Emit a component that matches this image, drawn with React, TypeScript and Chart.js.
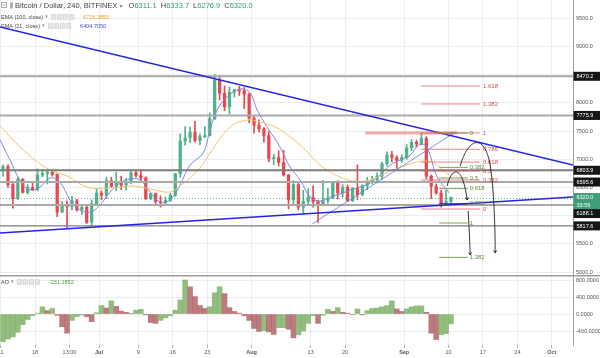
import React, { useEffect, useRef } from 'react';
import { Chart, registerables } from 'chart.js';

Chart.register(...registerables);

// Day index: 0 = 1 Jun 2018. One candle per day, first candle = 11 Jun.
const FIRST_DAY = 10;

const opens = [
  6800, 6870, 6550, 6300, 6640, 6410, 6500, 6460, 6720, 6750, 6770, 6730, 6060, 6170, 6160, 6260, 6100, 6150, 5880, 6210,
  6400, 6360, 6620, 6520, 6600, 6540, 6610, 6760, 6710, 6670, 6300, 6390, 6250, 6230, 6270, 6360, 6740, 7320, 7380, 7480,
  7330, 7400, 7420, 7720, 8400, 8170, 7930, 8190, 8230, 8210, 8150, 7730, 7600, 7540, 7420, 7010, 7030, 6940, 6720, 6280,
  6550, 6150, 6250, 6320, 6250, 6190, 6270, 6310, 6580, 6400, 6500, 6260, 6480, 6370, 6530, 6600, 6640, 6700, 6920, 7080,
  7030, 6980, 7030, 7200, 7300, 7270, 7370, 6700, 6520, 6400, 6190, 6250,
];
const highs = [
  6900, 6900, 6600, 6680, 6660, 6550, 6580, 6830, 6820, 6810, 6800, 6740, 6250, 6260, 6340, 6290, 6190, 6170, 6280, 6480,
  6440, 6680, 6680, 6770, 6700, 6660, 6820, 6800, 6810, 6690, 6400, 6400, 6350, 6330, 6400, 6750, 7450, 7580, 7570, 7670,
  7450, 7580, 7820, 8500, 8480, 8300, 8280, 8240, 8290, 8270, 8170, 7760, 7700, 7560, 7500, 7090, 7150, 7160, 6730, 6620,
  6580, 6450, 6480, 6530, 6270, 6620, 6480, 6580, 6620, 6550, 6540, 6500, 6900, 6550, 6680, 6700, 6760, 6950, 7130, 7140,
  7060, 7080, 7260, 7350, 7340, 7460, 7400, 6720, 6560, 6450, 6450, 6334,
];
const lows = [
  6700, 6500, 6130, 6280, 6400, 6380, 6440, 6440, 6690, 6560, 6700, 5980, 6050, 5780, 6100, 6080, 6020, 5860, 5820, 6190,
  6280, 6300, 6500, 6440, 6460, 6450, 6560, 6680, 6620, 6280, 6280, 6180, 6150, 6200, 6250, 6340, 6680, 7250, 7290, 7300,
  7260, 7380, 7410, 7700, 8050, 7860, 7800, 8100, 8130, 7900, 7650, 7460, 7480, 7300, 6950, 6900, 6880, 6700, 6120, 6200,
  6100, 6020, 6200, 6150, 5880, 6170, 6220, 6300, 6300, 6330, 6250, 6250, 6280, 6350, 6460, 6560, 6580, 6640, 6880, 6950,
  6800, 6940, 7000, 7150, 7220, 7250, 6650, 6300, 6380, 6150, 6180, 6230,
];
const closes = [
  6870, 6550, 6300, 6640, 6410, 6500, 6460, 6720, 6750, 6770, 6730, 6060, 6170, 6160, 6260, 6100, 6150, 5880, 6210, 6400,
  6360, 6620, 6520, 6600, 6540, 6610, 6760, 6710, 6670, 6300, 6390, 6250, 6230, 6270, 6360, 6740, 7320, 7380, 7480, 7330,
  7400, 7420, 7720, 8400, 8170, 7930, 8190, 8230, 8210, 8150, 7730, 7600, 7540, 7420, 7010, 7030, 6940, 6720, 6280, 6550,
  6150, 6250, 6320, 6250, 6190, 6270, 6310, 6580, 6400, 6500, 6260, 6480, 6370, 6530, 6600, 6640, 6700, 6920, 7080, 7030,
  6980, 7030, 7200, 7300, 7270, 7370, 6700, 6520, 6400, 6190, 6250, 6320,
];

// Awesome Oscillator, one value per day (same days as the candles)
const aoValues = [
  -650, -590, -540, -430, -250, -130, -40, 20, 170, 80, 130, -30, -300, -450, -150, -60, -25, -60, -180, 30,
  200, 140, 310, 180, 70, 40, 10, 90, 110, -20, -200, -220, -150, -90, -40, 90, 330, 800, 640, 410,
  200, 130, 170, 500, 640, 480, 150, 60, 20, -40, -150, -340, -410, -390, -420, -480, -320, -320, -360, -560,
  -490, -400, -220, -40, -220, -30, 110, 60, 150, 40, 20, -10, 120, -20, 80, 130, 140, 170, 200, 310,
  120, 60, 120, 170, 190, 190, 40, -450, -600, -490, -460, -231,
];

const ema100Days = [9.9, 13.94, 16.99, 20.04, 23.5, 27.56, 32.24, 36.91, 40.37, 44.43, 46.46, 48.5, 50.53, 52.56, 56.63, 60.08, 62.72, 66.18, 68.82, 70.86, 72.89, 74.92, 76.95, 78.98, 81.63, 85.08, 89.15, 93.21, 95.85, 97.89, 101.14];
const ema100Values = [7589, 7216, 6986, 6809, 6702, 6507, 6489, 6525, 6472, 6418, 6525, 6667, 6844, 7110, 7571, 7695, 7660, 7553, 7394, 7252, 7074, 6897, 6773, 6684, 6613, 6631, 6791, 6915, 6968, 6933, 6716.4];

const ema21Days = [9.9, 11.91, 13.94, 15.98, 18.01, 20.04, 22.07, 24.11, 26.14, 28.17, 30.2, 32.24, 34.27, 36.3, 38.33, 40.37, 42.4, 44.43, 46.46, 48.5, 51.14, 52.56, 53.98, 56.02, 58.66, 60.69, 62.11, 64.15, 66.78, 68.82, 70.86, 72.89, 74.92, 76.95, 78.98, 81.02, 83.05, 85.08, 87.11, 89.15, 91.18, 93.21, 95.24, 96.67, 98.7, 101.14];
const ema21Values = [7340, 6986, 6631, 6454, 6507, 6667, 6596, 6277, 6099, 6064, 6188, 6418, 6578, 6649, 6631, 6418, 6241, 6277, 6543, 6897, 7110, 7518, 7872, 8103, 8245, 8174, 7872, 7571, 7216, 6862, 6631, 6330, 6259, 6330, 6383, 6454, 6507, 6578, 6720, 6897, 6986, 7074, 7269, 7199, 6684, 6404.7];

const xTickDays = [10, 17, 24, 30, 38, 45, 52, 61, 73, 80, 92, 101, 108, 115, 122];
const xTickLabels = ['11', '18', '13:00', 'Jul', '9', '16', '23', 'Aug', '13', '20', 'Sep', '10', '17', '24', 'Oct'];
const monthLabels = ['Jul', 'Aug', 'Sep', 'Oct'];

const priceTicks = [5000, 5250, 5500, 5750, 6000, 6250, 6500, 6750, 7000, 7250, 7500, 7750, 8000, 8250, 8500, 8750, 9000, 9250, 9500, 9750];
const hiddenPriceTicks = [8500, 7750, 6750, 6250, 6000, 5750];
const aoTicks = [-400, 0, 400, 800];

const levelPrices = [8470.2, 7775.9, 6803.9, 6595.6, 6188.1, 5817.6];
const lastPrice = 6320.0;
const countdown = '33:59';

const downTrend = [[9.88, 9344], [126.3, 6897]];
const upTrend = [[9.88, 5691], [126.3, 6330]];
const wedgeLine = [[73.3, 5851], [102.4, 7482]];
const resistanceBand = [[84.1, 7465], [102.8, 7465]];

const redFibLevels = [0, 0.382, 0.5, 0.618, 0.786, 1, 1.382, 1.618];
const redFibBase = [6117, 7465];
const redFibSpan = [95.4, 107.4];
const greenFibLevels = [0, 0.382, 0.5, 0.618, 0.786, 1, 1.382];
const greenFibBase = [7465, 5869];
const greenFibSpan = [99.1, 104.9];

// hand-drawn arrows (cubic bezier: start, cp1, cp2, end)
const arrowA = [[100.73, 6525], [101.54, 6844], [103.78, 6950], [104.8, 6277]];
const arrowA2 = [[105.0, 6082], [105.2, 5800], [105.35, 5500], [105.41, 5301]];
const arrowB1 = [[103.37, 6879], [104.99, 7376], [108.25, 7482], [109.47, 6897]];
const arrowB2 = [[109.47, 6897], [110.28, 6454], [110.49, 5745], [110.49, 5337]];

const UP = '#4fb28a';
const DOWN = '#e8474f';
const AO_UP = 'rgba(128,176,104,0.85)';
const AO_DOWN = 'rgba(176,100,104,0.85)';
const FONT = 'Liberation Sans';

const overlayPlugin = {
  id: 'overlay',
  afterDatasetsDraw(chart: any) {
    const ctx = chart.ctx;
    const xs = chart.scales.x;
    const ys = chart.scales.y;
    const X = (d: number) => xs.getPixelForValue(d);
    const Y = (v: number) => ys.getPixelForValue(v);
    const left = chart.chartArea.left;
    const right = chart.chartArea.right;
    ctx.save();
    ctx.beginPath();
    ctx.rect(left, 0, right - left, ys.bottom);
    ctx.clip();

    // current price dotted line
    ctx.strokeStyle = 'rgba(60,160,130,0.8)';
    ctx.lineWidth = 1;
    ctx.setLineDash([1, 2]);
    ctx.beginPath();
    ctx.moveTo(left, Math.round(Y(lastPrice)) + 0.5);
    ctx.lineTo(right, Math.round(Y(lastPrice)) + 0.5);
    ctx.stroke();
    ctx.setLineDash([]);

    // horizontal levels
    levelPrices.forEach((p, i) => {
      const y = Y(p);
      ctx.strokeStyle = i === 2 || i === 5 ? '#7d7d7d' : '#a9a9a9';
      ctx.lineWidth = i === 5 ? 1.2 : 2;
      ctx.beginPath();
      ctx.moveTo(left, y);
      ctx.lineTo(right, y);
      ctx.stroke();
    });

    const seg = (pts: number[][], color: string, w: number) => {
      ctx.strokeStyle = color;
      ctx.lineWidth = w;
      ctx.beginPath();
      ctx.moveTo(X(pts[0][0]), Y(pts[0][1]));
      ctx.lineTo(X(pts[1][0]), Y(pts[1][1]));
      ctx.stroke();
    };
    seg(wedgeLine, 'rgba(90,120,230,0.8)', 1);
    seg(downTrend, '#2424e6', 1.6);
    seg(upTrend, '#2424e6', 1.6);
    seg(resistanceBand, 'rgba(236,96,96,0.55)', 3);

    // fib levels
    ctx.font = `6px ${FONT}`;
    ctx.textBaseline = 'middle';
    ctx.textAlign = 'left';
    redFibLevels.forEach((lv) => {
      const p = redFibBase[0] + lv * (redFibBase[1] - redFibBase[0]);
      const y = Y(p);
      ctx.strokeStyle = 'rgba(232,90,90,0.75)';
      ctx.lineWidth = 1;
      ctx.beginPath();
      ctx.moveTo(X(redFibSpan[0]), y);
      ctx.lineTo(X(redFibSpan[1]), y);
      ctx.stroke();
      ctx.fillStyle = '#e04848';
      ctx.fillText(String(lv), X(redFibSpan[1]) + 3, y);
    });
    greenFibLevels.forEach((lv) => {
      const p = greenFibBase[0] + lv * (greenFibBase[1] - greenFibBase[0]);
      const y = Y(p);
      ctx.strokeStyle = lv === 0.786 ? '#333' : 'rgba(110,150,70,0.9)';
      ctx.lineWidth = 1;
      ctx.beginPath();
      ctx.moveTo(X(greenFibSpan[0]), y);
      ctx.lineTo(X(greenFibSpan[1]), y);
      ctx.stroke();
      ctx.fillStyle = '#5f8f3a';
      ctx.fillText(String(lv), X(greenFibSpan[1]) + 2, y);
    });

    // arrows
    const bez = (pts: number[][], head: boolean) => {
      ctx.strokeStyle = '#222';
      ctx.lineWidth = 0.9;
      ctx.beginPath();
      ctx.moveTo(X(pts[0][0]), Y(pts[0][1]));
      ctx.bezierCurveTo(X(pts[1][0]), Y(pts[1][1]), X(pts[2][0]), Y(pts[2][1]), X(pts[3][0]), Y(pts[3][1]));
      ctx.stroke();
      if (head) {
        const ex = X(pts[3][0]);
        const ey = Y(pts[3][1]);
        const ang = Math.atan2(ey - Y(pts[2][1]), ex - X(pts[2][0]));
        ctx.beginPath();
        ctx.moveTo(ex - 3 * Math.cos(ang - 0.5), ey - 3 * Math.sin(ang - 0.5));
        ctx.lineTo(ex, ey);
        ctx.lineTo(ex - 3 * Math.cos(ang + 0.5), ey - 3 * Math.sin(ang + 0.5));
        ctx.stroke();
      }
    };
    bez(arrowA, true);
    bez(arrowA2, true);
    bez(arrowB1, false);
    bez(arrowB2, true);
    ctx.restore();
  },
  afterDraw(chart: any) {
    const ctx = chart.ctx;
    const ys = chart.scales.y;
    const Y = (v: number) => ys.getPixelForValue(v);
    ctx.save();
    // pane separator
    ctx.fillStyle = '#9c9c9c';
    ctx.fillRect(0, ys.bottom, chart.width, 1.5);

    // axis value boxes
    ctx.font = `5.5px ${FONT}`;
    ctx.textBaseline = 'middle';
    ctx.textAlign = 'left';
    const ax = chart.chartArea.right + 0.5;
    const boxes: { y: number; h: number; lines: string[]; bg: string }[] = [];
    levelPrices.forEach((p) => boxes.push({ y: Y(p), h: 9, lines: [p.toFixed(1)], bg: '#161616' }));
    boxes.push({ y: Y(lastPrice), h: 16, lines: [lastPrice.toFixed(1), countdown], bg: '#3c9f78' });
    boxes.sort((a, b) => a.y - b.y);
    let prevBottom = -100;
    boxes.forEach((b) => {
      let top = b.y - 4.5;
      if (top < prevBottom) top = prevBottom;
      ctx.fillStyle = b.bg;
      ctx.fillRect(ax, top, chart.width - ax, b.h);
      ctx.fillStyle = '#fff';
      b.lines.forEach((t, i) => ctx.fillText(t, ax + 3, top + 4.7 + i * 7.5));
      prevBottom = top + b.h;
    });

    // header
    ctx.strokeStyle = '#9a9a9a';
    ctx.lineWidth = 0.8;
    ctx.strokeRect(1.5, 2.5, 5, 5);
    ctx.beginPath();
    ctx.moveTo(2.5, 5);
    ctx.lineTo(5.5, 5);
    ctx.stroke();
    ctx.fillStyle = '#b0b0b0';
    ctx.fillRect(10, 2.5, 3, 6);
    ctx.font = `7.5px ${FONT}`;
    ctx.fillStyle = '#4a4a4a';
    let x = 15;
    const put = (t: string, color: string, font?: string) => {
      if (font) ctx.font = font;
      ctx.fillStyle = color;
      ctx.fillText(t, x, 6);
      x += ctx.measureText(t).width;
    };
    put('Bitcoin / Dollar, 240, BITFINEX', '#444');
    x += 2;
    put('\u25BE', '#888', `6px DejaVu Sans`);
    x += 6;
    ctx.font = `7.5px ${FONT}`;
    const ohlc = [['O', '6311.1'], ['H', '6333.7'], ['L', '6276.9'], ['C', '6320.0']];
    ohlc.forEach(([k, v]) => {
      put(k, '#444');
      put(v, '#2a9d80');
      x += 4;
    });

    const legend = (y: number, name: string, value: string, color: string) => {
      ctx.font = `5.5px ${FONT}`;
      ctx.fillStyle = '#4a4a4a';
      ctx.fillText(name, 1, y);
      let lx = 1 + ctx.measureText(name).width + 2;
      ctx.font = `5px DejaVu Sans`;
      ctx.fillStyle = '#888';
      ctx.fillText('\u25BE', lx, y);
      lx += 6;
      for (let i = 0; i < 4; i++) {
        ctx.fillStyle = '#e6e6e6';
        ctx.fillRect(lx + i * 6, y - 2.5, 5, 5);
        ctx.strokeStyle = '#c8c8c8';
        ctx.lineWidth = 0.5;
        ctx.strokeRect(lx + i * 6 + 0.25, y - 2.25, 4.5, 4.5);
      }
      lx += 24 + 8;
      ctx.font = `5.5px ${FONT}`;
      ctx.fillStyle = color;
      ctx.fillText(value, lx, y);
    };
    legend(17, 'EMA (100, close)', '6716.3853', '#f0a020');
    legend(26, 'EMA (21, close)', '6404.7050', '#3b4bc0');
    legend(ys.bottom + 7, 'AO', '-231.1852', '#4f9a3a');
    ctx.restore();
  },
};

export default function App() {
  const ref = useRef<HTMLCanvasElement>(null);
  useEffect(() => {
    const canvas = ref.current;
    if (!canvas) return;
    Chart.defaults.font.family = FONT;
    const days = closes.map((_, i) => FIRST_DAY + i + 0.5);
    const bodyColors = closes.map((c, i) => (c >= opens[i] ? UP : DOWN));
    const aoColors = aoValues.map((v, i) => (i === 0 || v >= aoValues[i - 1] ? AO_UP : AO_DOWN));

    const chart = new Chart(canvas, {
      type: 'bar',
      data: {
        datasets: [
          {
            type: 'line',
            data: ema100Days.map((d, i) => ({ x: d, y: ema100Values[i] })),
            yAxisID: 'y',
            borderColor: '#f3c26e',
            borderWidth: 1,
            pointRadius: 0,
            tension: 0.4,
            order: 0,
          } as any,
          {
            type: 'line',
            data: ema21Days.map((d, i) => ({ x: d, y: ema21Values[i] })),
            yAxisID: 'y',
            borderColor: '#7f89d8',
            borderWidth: 1,
            pointRadius: 0,
            tension: 0.4,
            order: 0,
          } as any,
          {
            type: 'bar',
            data: days.map((d, i) => ({ x: d, y: [lows[i], highs[i]] })),
            yAxisID: 'y',
            backgroundColor: bodyColors,
            barThickness: 1,
            grouped: false,
            order: 2,
          } as any,
          {
            type: 'bar',
            data: days.map((d, i) => ({ x: d, y: [opens[i], closes[i]] })),
            yAxisID: 'y',
            backgroundColor: bodyColors,
            barThickness: 2.6,
            minBarLength: 1,
            grouped: false,
            order: 1,
          } as any,
          {
            type: 'bar',
            data: days.map((d, i) => ({ x: d, y: aoValues[i] })),
            yAxisID: 'ao',
            backgroundColor: aoColors,
            barPercentage: 1,
            categoryPercentage: 1,
            grouped: false,
            order: 3,
          } as any,
        ],
      },
      options: {
        animation: false,
        responsive: true,
        maintainAspectRatio: false,
        layout: { padding: 0 },
        plugins: { legend: { display: false }, tooltip: { enabled: false } },
        scales: {
          x: {
            type: 'linear',
            min: 9.88,
            max: 126.3,
            offset: false,
            position: 'bottom',
            grid: { color: '#eaeef3', offset: false, drawTicks: true, tickLength: 3, tickColor: '#b0b0b0' },
            border: { display: false },
            ticks: {
              autoSkip: false,
              maxRotation: 0,
              padding: 1,
              color: '#555',
              font: (c: any) => ({
                size: 5.5,
                family: FONT,
                weight: c.tick && monthLabels.includes(c.tick.label) ? 'bold' : 'normal',
              }),
              callback: (v: any) => {
                const i = xTickDays.indexOf(Number(v));
                return i >= 0 ? xTickLabels[i] : '';
              },
            },
            afterBuildTicks: (s: any) => {
              s.ticks = xTickDays.map((v) => ({ value: v }));
            },
            afterFit: (s: any) => {
              s.height = 13;
              s.paddingLeft = 0;
              s.paddingRight = 0;
            },
          } as any,
          y: {
            type: 'linear',
            position: 'right',
            stack: 'panes',
            stackWeight: 275,
            min: 4947,
            max: 9823,
            beginAtZero: false,
            grid: { color: '#eaeef3', drawTicks: false },
            border: { display: true, color: '#a0a0a0' },
            ticks: {
              padding: 3,
              color: '#555',
              font: { size: 5.5, family: FONT },
              callback: (v: any) => (hiddenPriceTicks.includes(Number(v)) ? '' : Number(v).toFixed(1)),
            },
            afterBuildTicks: (s: any) => {
              s.ticks = priceTicks.map((v) => ({ value: v }));
            },
            afterFit: (s: any) => {
              s.width = 27;
              s.paddingTop = 0;
              s.paddingBottom = 0;
            },
          } as any,
          ao: {
            type: 'linear',
            position: 'right',
            stack: 'panes',
            stackWeight: 70,
            min: -729,
            max: 918,
            beginAtZero: false,
            grid: { color: '#eaeef3', drawTicks: false },
            border: { display: true, color: '#a0a0a0' },
            ticks: {
              padding: 3,
              color: '#555',
              font: { size: 5.5, family: FONT },
              callback: (v: any) => Number(v).toFixed(4),
            },
            afterBuildTicks: (s: any) => {
              s.ticks = aoTicks.map((v) => ({ value: v }));
            },
            afterFit: (s: any) => {
              s.width = 27;
              s.paddingTop = 0;
              s.paddingBottom = 0;
            },
          } as any,
        },
      },
      plugins: [overlayPlugin],
    });
    return () => chart.destroy();
  }, []);

  return (
    <div style={{ position: 'fixed', left: 0, top: 0, width: 600, height: 358, background: '#fff' }}>
      <canvas ref={ref} />
    </div>
  );
}
